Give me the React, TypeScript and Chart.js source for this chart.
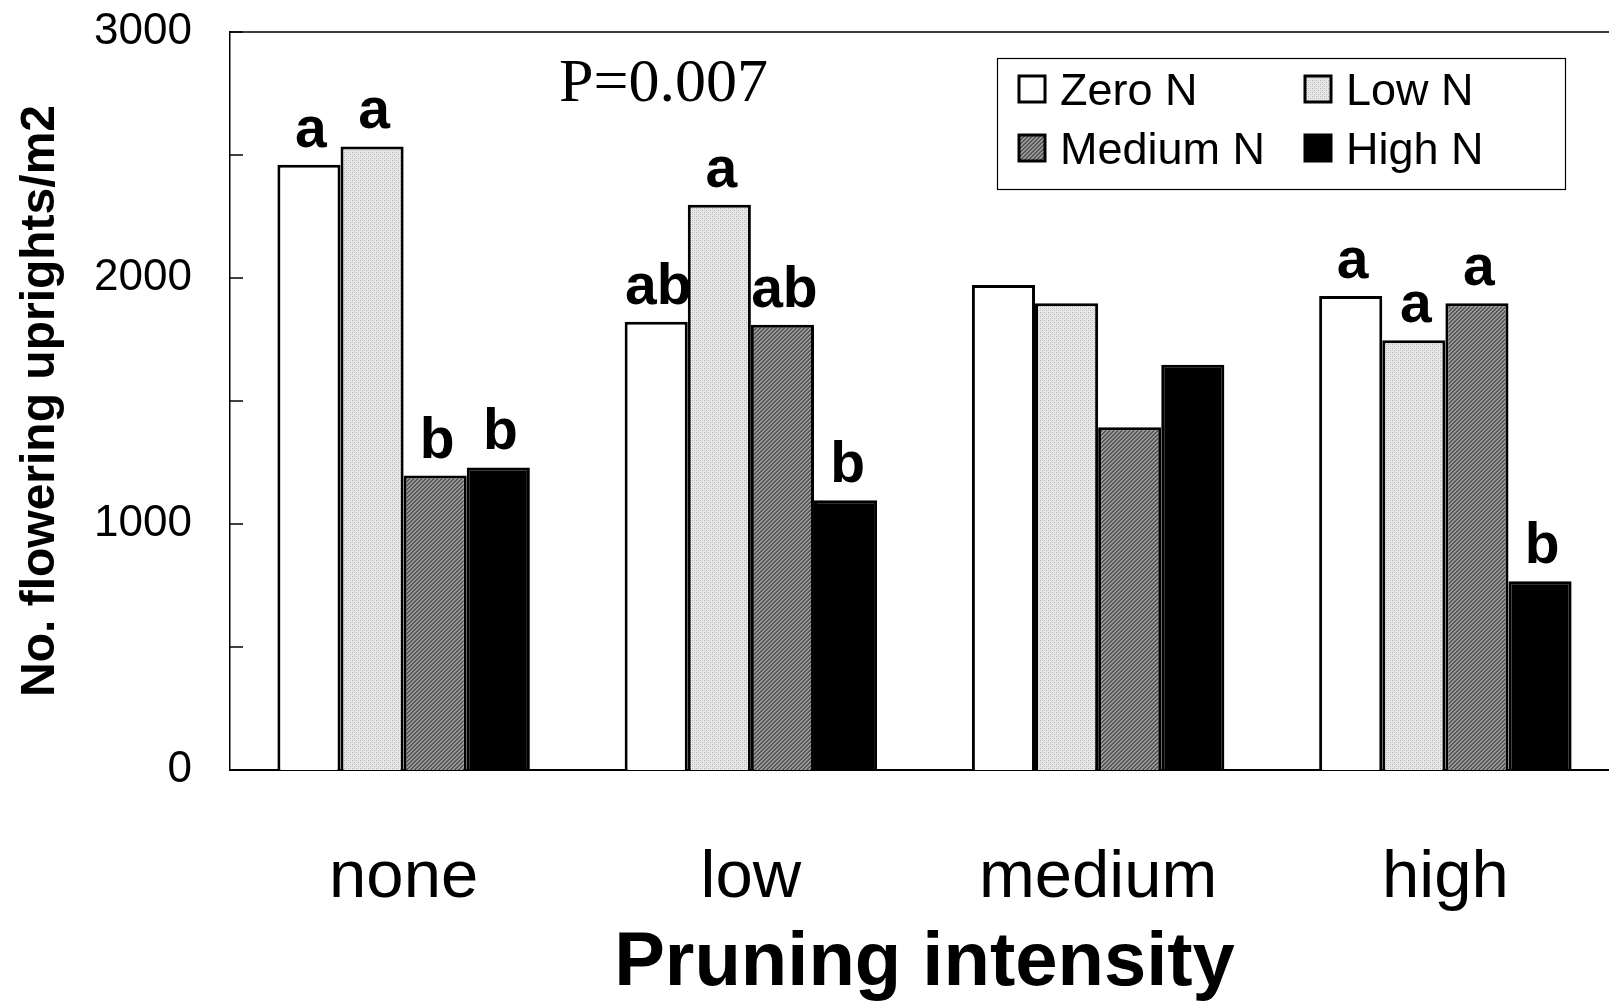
import React, { useEffect, useRef } from 'react';
import { Chart, registerables } from 'chart.js';

Chart.register(...registerables);

// ---- data ----
const categories = ['none', 'low', 'medium', 'high'];
const seriesNames = ['Zero N', 'Low N', 'Medium N', 'High N'];
const zeroN = [2460, 1822, 1972, 1927];
const lowN = [2535, 2298, 1897, 1747];
const mediumN = [1197, 1810, 1393, 1897];
const highN = [1230, 1097, 1647, 767];
const zeroLetters = ['a', 'ab', '', 'a'];
const lowLetters = ['a', 'a', '', 'a'];
const mediumLetters = ['b', 'ab', '', 'a'];
const highLetters = ['b', 'b', '', 'b'];
const yMin = 0;
const yMax = 3000;
const yStep = 500;
const yLabelStep = 1000;
const pValueText = 'P=0.007';
const xTitle = 'Pruning intensity';
const yTitle = 'No. flowering uprights/m2';

const SANS = "'Liberation Sans', Arial, Helvetica, sans-serif";
const SERIF = "'Liberation Serif', 'Times New Roman', serif";

function makePattern(kind: 'dots' | 'hatch'): CanvasPattern | string {
  const c = document.createElement('canvas');
  c.width = 4;
  c.height = 4;
  const g = c.getContext('2d');
  if (!g) return kind === 'dots' ? '#dcdcdc' : '#808080';
  if (kind === 'dots') {
    g.fillStyle = '#e8e8e8';
    g.fillRect(0, 0, 4, 4);
    g.fillStyle = '#b4b4b4';
    g.fillRect(0, 0, 1, 1);
    g.fillRect(2, 2, 1, 1);
    g.fillStyle = '#d0d0d0';
    g.fillRect(2, 0, 1, 1);
    g.fillRect(0, 2, 1, 1);
  } else {
    g.fillStyle = '#9a9a9a';
    g.fillRect(0, 0, 4, 4);
    g.fillStyle = '#555555';
    for (let i = 0; i < 4; i++) {
      g.fillRect((3 - i + 4) % 4, i, 1, 1);
      g.fillRect((3 - i + 5) % 4, i, 1, 1);
    }
  }
  const p = g.createPattern(c, 'repeat');
  return p || (kind === 'dots' ? '#dcdcdc' : '#808080');
}

export default function App() {
  const ref = useRef<HTMLCanvasElement | null>(null);

  useEffect(() => {
    const canvas = ref.current;
    if (!canvas) return;
    const lowFill = makePattern('dots');
    const medFill = makePattern('hatch');
    const letters = [zeroLetters, lowLetters, mediumLetters, highLetters];

    const overlay = {
      id: 'overlay',
      afterDatasetsDraw(chart: any) {
        const ctx = chart.ctx as CanvasRenderingContext2D;
        const area = chart.chartArea;
        const ys = chart.scales.y;
        ctx.save();
        // top frame line
        ctx.strokeStyle = '#000';
        ctx.lineWidth = 1.5;
        ctx.beginPath();
        ctx.moveTo(area.left, area.top);
        ctx.lineTo(area.right + 20, area.top);
        ctx.stroke();
        // inward y ticks
        ctx.lineWidth = 1.5;
        ys.ticks.forEach((t: any) => {
          const py = ys.getPixelForValue(t.value);
          ctx.beginPath();
          ctx.moveTo(area.left, py);
          ctx.lineTo(area.left + 13, py);
          ctx.stroke();
        });
        // significance letters
        ctx.fillStyle = '#000';
        ctx.font = `bold 57px ${SANS}`;
        ctx.textAlign = 'center';
        ctx.textBaseline = 'alphabetic';
        chart.data.datasets.forEach((_ds: any, di: number) => {
          const meta = chart.getDatasetMeta(di);
          meta.data.forEach((el: any, i: number) => {
            const txt = letters[di][i];
            if (!txt) return;
            ctx.fillText(txt, el.x + 2, el.y - 18);
          });
        });
        // P value
        ctx.font = `62px ${SERIF}`;
        ctx.textAlign = 'left';
        ctx.fillText(pValueText, 559, 101);
        // legend box
        const bx = 997, by = 58, bw = 568, bh = 131;
        ctx.fillStyle = '#fff';
        ctx.fillRect(bx, by, bw, bh);
        ctx.strokeStyle = '#000';
        ctx.lineWidth = 1.2;
        ctx.strokeRect(bx + 0.5, by + 0.5, bw, bh);
        const cols = [1019, 1305];
        const rows = [76, 135];
        const bases = [105, 164];
        ctx.font = `45px ${SANS}`;
        chart.data.datasets.forEach((ds: any, di: number) => {
          const cx = cols[di % 2];
          const ry = rows[Math.floor(di / 2)];
          ctx.fillStyle = ds.backgroundColor;
          ctx.fillRect(cx, ry, 26, 26);
          ctx.strokeStyle = '#000';
          ctx.lineWidth = 3;
          ctx.strokeRect(cx, ry, 26, 26);
          ctx.fillStyle = '#000';
          ctx.fillText(ds.label, cx + 41, bases[Math.floor(di / 2)]);
        });
        ctx.restore();
      },
    };

    const chart = new Chart(canvas, {
      type: 'bar',
      data: {
        labels: categories,
        datasets: [
          { label: seriesNames[0], data: zeroN, backgroundColor: '#ffffff' },
          { label: seriesNames[1], data: lowN, backgroundColor: lowFill as any },
          { label: seriesNames[2], data: mediumN, backgroundColor: medFill as any },
          { label: seriesNames[3], data: highN, backgroundColor: '#000000' },
        ].map((d) => ({
          ...d,
          borderColor: '#000',
          borderWidth: 3,
          borderSkipped: 'start',
          barPercentage: 1,
          categoryPercentage: 0.727,
        })) as any,
      },
      options: {
        responsive: false,
        animation: false,
        devicePixelRatio: 1,
        layout: { padding: { top: 32, right: 6, left: 0, bottom: 0 } },
        plugins: {
          legend: { display: false },
          tooltip: { enabled: false },
        },
        scales: {
          x: {
            grid: { display: false, drawTicks: false },
            border: { display: true, color: '#000', width: 2 },
            ticks: {
              color: '#000',
              font: { family: SANS, size: 67 },
              padding: 68,
              maxRotation: 0,
            },
            title: {
              display: true,
              text: xTitle,
              color: '#000',
              font: { family: SANS, size: 76, weight: 'bold', lineHeight: 1 },
              padding: { top: 0, bottom: 1 },
            },
            afterFit(scale: any) {
              scale.height = 233;
              scale.paddingLeft = 0;
              scale.paddingRight = 0;
            },
          },
          y: {
            min: yMin,
            max: yMax,
            grid: { display: false, drawTicks: false },
            border: { display: true, color: '#000', width: 1.5 },
            ticks: {
              stepSize: yStep,
              color: '#000',
              font: { family: SANS, size: 44 },
              padding: 38,
              callback: (v: any) => (Number(v) % yLabelStep === 0 ? String(v) : ''),
            },
            title: {
              display: true,
              text: yTitle,
              color: '#000',
              font: { family: SANS, size: 48, weight: 'bold', lineHeight: 1 },
              padding: { top: 17, bottom: 0 },
            },
            afterFit(scale: any) {
              scale.width = 230;
              scale.paddingTop = 0;
              scale.paddingBottom = 0;
            },
          },
        },
      },
      plugins: [overlay],
    });
    return () => chart.destroy();
  }, []);

  return (
    <div
      style={{
        position: 'fixed',
        left: 0,
        top: 0,
        width: 1625,
        height: 1003,
        background: '#fff',
        overflow: 'hidden',
      }}
    >
      <canvas ref={ref} width={1625} height={1003} style={{ width: 1625, height: 1003, display: 'block' }} />
    </div>
  );
}
